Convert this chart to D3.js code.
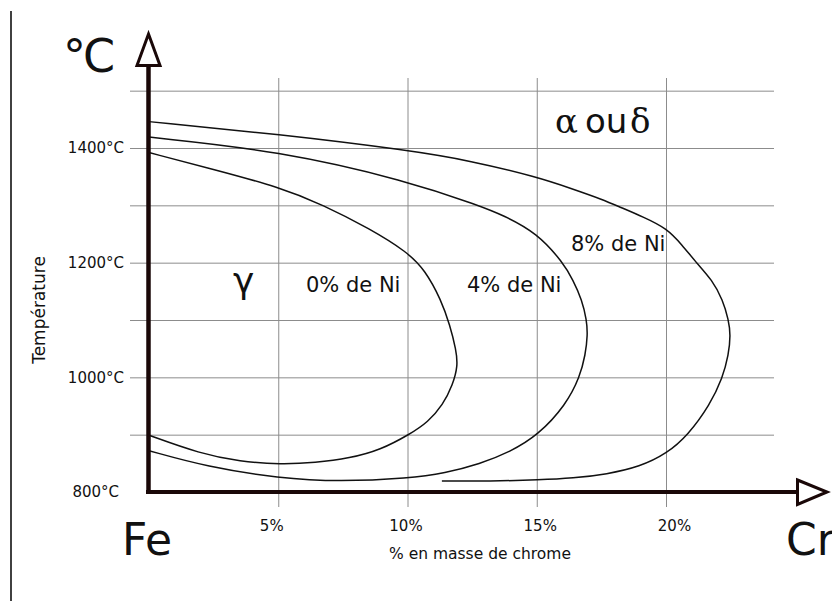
<!DOCTYPE html>
<html>
<head>
<meta charset="utf-8">
<script src="https://cdn.jsdelivr.net/npm/d3@7"></script>
<style>
  html, body { margin: 0; padding: 0; background: #fff; }
  svg { display: block; }
  text { font-family: "DejaVu Sans", sans-serif; fill: #111; }
</style>
</head>
<body>
<svg id="chart" width="832" height="601"></svg>
<script>
// Diagramme Fe-Cr : boucle gamma selon la teneur en nickel
const crTicks = [5, 10, 15, 20];
const crTickLabels = ["5%", "10%", "15%", "20%"];
const tGrid = [900, 1000, 1100, 1200, 1300, 1400, 1500];
const tTicks = [800, 1000, 1200, 1400];
const tTickLabels = ["800°C", "1000°C", "1200°C", "1400°C"];

// Limites de la boucle gamma (% Cr, °C)
const crNi0 = [0, 2.48, 5.03, 6.73, 8.55, 9.98, 10.68, 11.3, 11.64, 11.88, 11.95, 11.75, 11.37, 10.79, 10.1, 8.94, 7.78, 6.42, 5.1, 3.52, 1.97, 0];
const tNi0  = [1392, 1363, 1332, 1301, 1259, 1219, 1187, 1135, 1091, 1048, 1020, 987, 952, 922, 901, 873, 859, 851, 848, 853, 867, 899];

const crNi4 = [0, 5.03, 9.98, 12.8, 13.69, 15.01, 16.02, 16.4, 16.75, 16.93, 16.97, 16.88, 16.67, 16.13, 15.05, 13.97, 12.8, 11.45, 10.06, 7.39, 5.03, 2.24, 0];
const tNi4  = [1419, 1395, 1343, 1299, 1283, 1252, 1200, 1170, 1135, 1100, 1074, 1039, 1001, 952, 899, 870, 849, 833, 824, 818, 824, 844, 872];

const crNi8 = [0, 5.03, 10.06, 12.42, 15.05, 16.29, 17.56, 18.22, 19.11, 20.03, 20.62, 21.19, 21.78, 22.2, 22.42, 22.5, 22.42, 22.19, 21.7, 20.85, 20.03, 18.99, 17.71, 16.4, 15.13, 13.19, 11.33];
const tNi8  = [1446, 1424, 1396, 1378, 1349, 1330, 1310, 1297, 1280, 1260, 1231, 1199, 1170, 1135, 1100, 1074, 1039, 999, 952, 899, 867, 844, 831, 824, 821, 819, 819];

const seriesLabels = ["0% de Ni", "4% de Ni", "8% de Ni"];

const svg = d3.select("#chart");

const x = d3.scaleLinear().domain([0, 20]).range([149, 666]);
const y = d3.scaleLinear().domain([800, 1400]).range([492, 148]);

// cadre gauche
svg.append("line")
  .attr("x1", 11).attr("x2", 11).attr("y1", 11).attr("y2", 601)
  .attr("stroke", "#111").attr("stroke-width", 1.6);

// quadrillage horizontal
svg.append("g")
  .attr("transform", "translate(774,0)")
  .call(d3.axisLeft(y).tickValues(tGrid).tickSize(644).tickFormat(""))
  .call(g => g.select(".domain").remove())
  .call(g => g.selectAll("line").attr("stroke", "#8c8c8c").attr("stroke-width", 1));

// quadrillage vertical et graduations en % de chrome
svg.append("g")
  .attr("transform", "translate(0,507)")
  .call(d3.axisBottom(x).tickValues(crTicks).tickSize(-429).tickPadding(13)
    .tickFormat((d, i) => crTickLabels[i]))
  .call(g => g.select(".domain").remove())
  .call(g => g.selectAll("line").attr("stroke", "#8c8c8c").attr("stroke-width", 1))
  .call(g => g.selectAll("text")
    .attr("font-family", "DejaVu Sans").attr("font-size", 15).attr("fill", "#111")
    .attr("dx", d => d === 5 ? -7 : d === 20 ? 8 : d === 15 ? 3 : -2));

// graduations en température
svg.append("g")
  .attr("transform", "translate(124,0)")
  .call(d3.axisLeft(y).tickValues(tTicks).tickSize(0).tickPadding(0)
    .tickFormat((d, i) => tTickLabels[i]))
  .call(g => g.select(".domain").remove())
  .call(g => g.selectAll("text")
    .attr("font-family", "DejaVu Sans").attr("font-size", 15).attr("fill", "#111")
    .attr("dx", d => d === 800 ? -5 : 0));

// courbes lissées
const line = d3.line()
  .x(d => x(d[0])).y(d => y(d[1]))
  .curve(d3.curveBasis);

[[crNi0, tNi0], [crNi4, tNi4], [crNi8, tNi8]].forEach(([cr, t]) => {
  svg.append("path")
    .datum(cr.map((c, i) => [c, t[i]]))
    .attr("d", line)
    .attr("fill", "none")
    .attr("stroke", "#111")
    .attr("stroke-width", 1.5)
    .attr("stroke-linejoin", "round");
});

// axes fléchés
const axisColor = "#1a0808";
svg.append("line")
  .attr("x1", 148.5).attr("x2", 148.5).attr("y1", 494).attr("y2", 66)
  .attr("stroke", axisColor).attr("stroke-width", 4.5);
svg.append("line")
  .attr("x1", 146).attr("x2", 797).attr("y1", 492).attr("y2", 492)
  .attr("stroke", axisColor).attr("stroke-width", 4);
svg.append("path")
  .attr("d", "M148.5,34 L160,65.5 L137,65.5 Z")
  .attr("fill", "#fff").attr("stroke", axisColor).attr("stroke-width", 3)
  .attr("stroke-linejoin", "miter");
svg.append("path")
  .attr("d", "M797.5,480 L827,492 L797.5,504.5 Z")
  .attr("fill", "#fff").attr("stroke", axisColor).attr("stroke-width", 3)
  .attr("stroke-linejoin", "miter");

// titres
svg.append("text").attr("x", 63).attr("y", 72).attr("font-size", 46)
  .attr("letter-spacing", -3).text("°C");
svg.append("text").attr("x", 122).attr("y", 555).attr("font-size", 44).text("Fe");
svg.append("text").attr("x", 786).attr("y", 555).attr("font-size", 44).text("Cr");

svg.append("text").attr("x", 389).attr("y", 559).attr("font-size", 15.5)
  .text("% en masse de chrome");
svg.append("text")
  .attr("transform", "translate(45,310) rotate(-90)")
  .attr("text-anchor", "middle").attr("font-size", 17)
  .text("Température");

// domaines
const phase = svg.append("text").attr("y", 133).attr("font-size", 34);
phase.append("tspan").attr("x", 555).attr("font-family", "DejaVu Serif").text("α");
phase.append("tspan").attr("x", 585).text("ou");
phase.append("tspan").attr("x", 630).attr("font-family", "DejaVu Serif").text("δ");

svg.append("text").attr("x", 233).attr("y", 293).attr("font-size", 36)
  .attr("font-family", "DejaVu Serif").text("γ");

svg.append("text").attr("x", 306).attr("y", 292).attr("font-size", 21).text(seriesLabels[0]);
svg.append("text").attr("x", 467).attr("y", 292).attr("font-size", 21).text(seriesLabels[1]);
svg.append("text").attr("x", 571).attr("y", 251).attr("font-size", 21).text(seriesLabels[2]);
</script>
</body>
</html>
